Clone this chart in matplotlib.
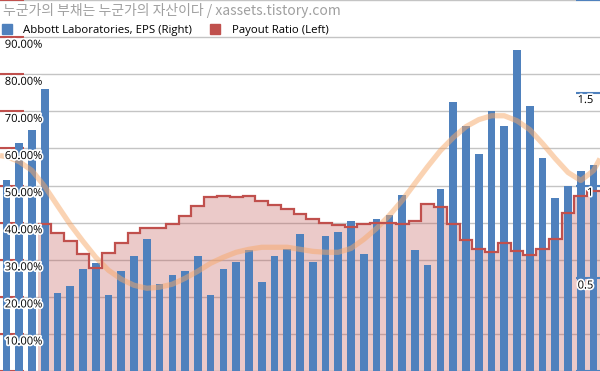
import numpy as np
import matplotlib.pyplot as plt
import matplotlib.patheffects as pe
import matplotlib.transforms as mtrans
from matplotlib.patches import Patch

# EPS per quarter (right axis)
eps = [1.03, 1.23, 1.30, 1.52, 0.42, 0.46, 0.55, 0.58, 0.41, 0.54,
       0.62, 0.71, 0.47, 0.52, 0.54, 0.62, 0.41, 0.55, 0.59, 0.65,
       0.48, 0.62, 0.66, 0.74, 0.59, 0.73, 0.75, 0.81, 0.63, 0.82,
       0.84, 0.95, 0.65, 0.57, 0.98, 1.45, 1.32, 1.17, 1.40, 1.32,
       1.73, 1.43, 1.15, 0.93, 1.00, 1.08, 1.11]

# payout ratio (left axis), starts at the 4th quarter
payout_start = 3
payout = [0.395, 0.373, 0.350, 0.315, 0.277, 0.318, 0.345, 0.371, 0.386, 0.385,
          0.395, 0.419, 0.445, 0.468, 0.471, 0.469, 0.472, 0.459, 0.448, 0.437,
          0.422, 0.410, 0.400, 0.393, 0.388, 0.397, 0.398, 0.398, 0.395, 0.404,
          0.451, 0.443, 0.395, 0.353, 0.328, 0.320, 0.344, 0.323, 0.312, 0.329,
          0.357, 0.425, 0.471, 0.484]

# EPS trend curve (right axis), read at each quarter plus both plot edges
trend_pos = [-0.5] + list(range(47)) + [46.5]
trend = [1.161, 1.156, 1.129, 1.081, 0.995, 0.892, 0.790, 0.699, 0.613, 0.543,
         0.495, 0.462, 0.446, 0.452, 0.468, 0.500, 0.538, 0.581, 0.613, 0.640,
         0.656, 0.667, 0.667, 0.667, 0.656, 0.645, 0.640, 0.640, 0.661, 0.710,
         0.769, 0.839, 0.919, 1.011, 1.102, 1.188, 1.258, 1.317, 1.355, 1.376,
         1.376, 1.349, 1.301, 1.226, 1.145, 1.070, 1.027, 1.081, 1.145]

left_ticks = [0.1, 0.2, 0.3, 0.4, 0.5, 0.6, 0.7, 0.8, 0.9]
right_ticks = [0.5, 1, 1.5]

title = '누군가의 부채는 누군가의 자산이다 / xassets.tistory.com'
eps_label = 'Abbott Laboratories, EPS (Right)'
payout_label = 'Payout Ratio (Left)'

blue = '#4F81BD'
red = '#C0504D'

plt.rcParams['font.family'] = ['Open Sans', 'DejaVu Sans']

fig = plt.figure(figsize=(6.0, 3.71), dpi=100)
ax = fig.add_axes([0, 0, 1, 1])
ax2 = ax.twinx()

x = np.arange(len(eps))
ax.set_xlim(-0.5, len(eps) - 0.5)
ax.set_ylim(0, 1)
ax2.set_ylim(0, 2)

# gridlines + payout area on the left axis
ax.set_yticks(np.linspace(0, 1, 11))
ax.grid(axis='y', color='#C4C4C4', lw=1)
ax.set_axisbelow(True)
edges = np.arange(payout_start, payout_start + len(payout) + 1) - 0.5
ax.stairs(payout, edges, fill=True, color=red, alpha=0.3, lw=0, baseline=0)

# bars + trend on the right axis
ax2.bar(x, eps, width=0.6, color=blue, zorder=2)
ax2.plot(trend_pos, trend, color='#F7A868', alpha=0.5, lw=3.8,
         solid_capstyle='butt', solid_joinstyle='round', zorder=3)
# red step line sits above the bars
ax2.stairs(payout, edges, color=red, lw=1.6, baseline=None, zorder=4,
           transform=ax.transData)

for a in (ax, ax2):
    for s in a.spines.values():
        s.set_visible(False)
    a.tick_params(axis='x', bottom=False, labelbottom=False)

ax.tick_params(axis='y', direction='in', length=17, width=1.5, colors=red,
               labelleft=False)
ax2.set_yticks([0, 0.5, 1, 1.5, 2])
ax2.tick_params(axis='y', direction='in', length=17, width=1.5, colors=blue,
                labelright=False)

# tick labels drawn inside the plot
outline = [pe.withStroke(linewidth=2.5, foreground='white')]
tl = mtrans.blended_transform_factory(ax2.transAxes, ax.transData)
for v in left_ticks:
    ax2.text(0.008, v - 0.007, f'{v * 100:.2f}%', transform=tl, ha='left',
             va='top', fontsize=8, zorder=6, path_effects=outline)
tr = mtrans.blended_transform_factory(ax2.transAxes, ax2.transData)
for v in right_ticks:
    ax2.text(0.989, v - 0.012, f'{v:g}', transform=tr, ha='right',
             va='top', fontsize=8, zorder=6, path_effects=outline)

fig.text(0.005, 1 - 10.5 / 371, title, ha='left', va='center', fontsize=10,
         color='#A0A0A0', family=['Noto Sans CJK KR', 'DejaVu Sans'])

handles = [Patch(color=blue, label=eps_label), Patch(color=red, label=payout_label)]
leg = ax2.legend(handles=handles, loc='upper left', bbox_to_anchor=(0.003, 0.935),
                 ncol=2, frameon=False, fontsize=8.2, handlelength=0.9,
                 handleheight=0.9, handletextpad=1.0, columnspacing=1.55,
                 borderaxespad=0, borderpad=0)
leg.set_zorder(7)

fig.savefig('out.png', dpi=100)
